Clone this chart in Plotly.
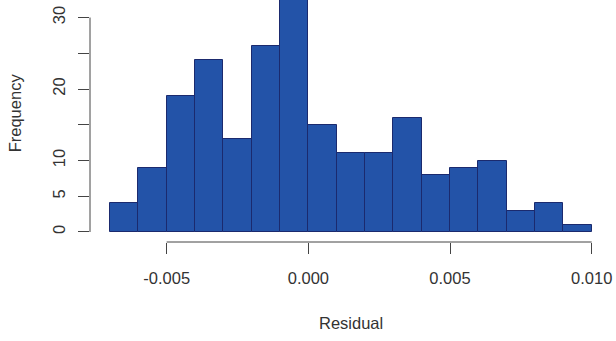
import plotly.graph_objects as go

# Histogram of model residuals: bin edges and counts per bin
bin_edges = [-0.007, -0.006, -0.005, -0.004, -0.003, -0.002, -0.001, 0.000,
             0.001, 0.002, 0.003, 0.004, 0.005, 0.006, 0.007, 0.008, 0.009, 0.010]
counts = [4, 9, 19, 24, 13, 26, 33, 15, 11, 11, 16, 8, 9, 10, 3, 4, 1]

x_tickvals = [-0.005, 0.000, 0.005, 0.010]
x_ticktext = ["-0.005", "0.000", "0.005", "0.010"]
y_tickvals = [0, 5, 10, 15, 20, 25, 30]
y_ticktext = ["0", "5", "10", "", "20", "", "30"]

centers = [(a + b) / 2 for a, b in zip(bin_edges[:-1], bin_edges[1:])]
widths = [b - a for a, b in zip(bin_edges[:-1], bin_edges[1:])]

FILL = "#2353A8"
EDGE = "#1B2A6E"
AXIS = "#444444"
TEXT = "#333333"
FONT = "Liberation Sans, Arial, sans-serif"

fig = go.Figure(
    go.Bar(
        x=centers,
        y=counts,
        width=widths,
        marker=dict(color=FILL, line=dict(color=EDGE, width=1)),
        hoverinfo="skip",
    )
)

fig.update_layout(
    width=616,
    height=341,
    margin=dict(l=90, r=16, t=0, b=99, autoexpand=False),
    paper_bgcolor="white",
    plot_bgcolor="white",
    showlegend=False,
    bargap=0,
    font=dict(family=FONT, size=16.5, color=TEXT),
    xaxis=dict(
        range=[-0.007706, 0.010294],
        tickvals=x_tickvals,
        ticktext=x_ticktext,
        ticks="outside",
        ticklen=11,
        tickwidth=1,
        tickcolor=AXIS,
        ticklabelstandoff=10,
        showline=False,
        showgrid=False,
        zeroline=False,
        automargin=False,
    ),
    yaxis=dict(
        range=[-1.40, 32.45],
        tickvals=y_tickvals,
        ticktext=y_ticktext,
        tickangle=-90,
        ticks="outside",
        ticklen=11,
        tickwidth=1,
        tickcolor=AXIS,
        ticklabelstandoff=6,
        showline=False,
        showgrid=False,
        zeroline=False,
        automargin=False,
    ),
    shapes=[
        # R-style axis lines spanning only the labelled tick range
        dict(type="line", xref="x", yref="paper",
             x0=x_tickvals[0], x1=x_tickvals[-1], y0=0, y1=0,
             line=dict(color=AXIS, width=1)),
        dict(type="line", xref="paper", yref="y",
             x0=0, x1=0, y0=y_tickvals[0], y1=y_tickvals[-1],
             line=dict(color=AXIS, width=1)),
    ],
    annotations=[
        dict(text="Residual", xref="x", yref="paper",
             x=(bin_edges[0] + bin_edges[-1]) / 2, y=0,
             xanchor="center", yanchor="middle", yshift=-81,
             showarrow=False, font=dict(size=16.5, color=TEXT)),
        dict(text="Frequency", xref="paper", yref="y",
             x=0, y=16.6, textangle=-90,
             xanchor="center", yanchor="middle", xshift=-75,
             showarrow=False, font=dict(size=16.5, color=TEXT)),
    ],
)

fig.write_html("out.html")
